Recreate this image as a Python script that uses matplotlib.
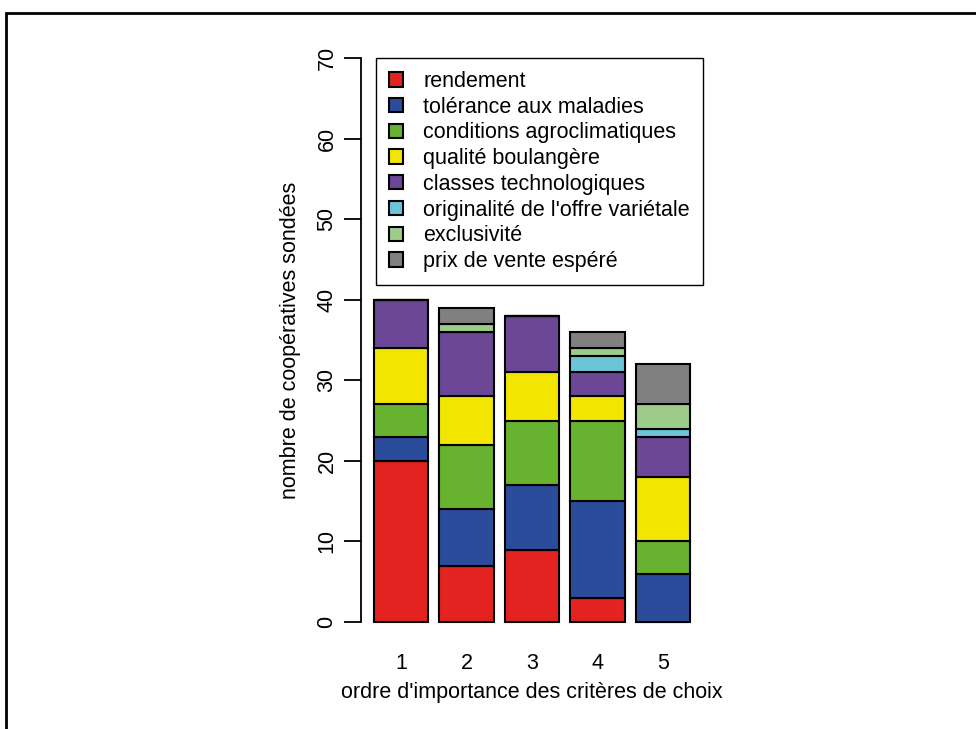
import numpy as np
import matplotlib
matplotlib.use("Agg")
import matplotlib.pyplot as plt
from matplotlib.patches import Rectangle

plt.rcParams['font.family'] = ['Liberation Sans', 'DejaVu Sans']

# ordre d'importance (1..5)
rangs = ['1', '2', '3', '4', '5']
criteres = ['rendement', 'tolérance aux maladies', 'conditions agroclimatiques',
            'qualité boulangère', 'classes technologiques',
            "originalité de l'offre variétale", 'exclusivité', 'prix de vente espéré']
couleurs = ['#E3231F', '#2B4C9B', '#67B22E', '#F2E600', '#6B4796',
            '#6CC4D9', '#9DCB8A', '#808080']

# nombre de coopératives par critère, pour chaque rang
rendement = [20, 7, 9, 3, 0]
tolerance = [3, 7, 8, 12, 6]
conditions = [4, 8, 8, 10, 4]
qualite = [7, 6, 6, 3, 8]
classes = [6, 8, 7, 3, 5]
originalite = [0, 0, 0, 2, 1]
exclusivite = [0, 1, 0, 1, 3]
prix = [0, 2, 0, 2, 5]

series = [rendement, tolerance, conditions, qualite, classes,
          originalite, exclusivite, prix]

fs = 15.5

fig = plt.figure(figsize=(9.76, 7.29), dpi=100)
ax = fig.add_axes([0.370, 0.1158, 0.350, 0.8356])

x = 0.7 + 1.2 * np.arange(len(rangs))
bas = np.zeros(len(rangs))
handles = []
for vals, lab, col in zip(series, criteres, couleurs):
    vals = np.array(vals, dtype=float)
    b = ax.bar(x, vals, width=1.0, bottom=bas, color=col, edgecolor='black',
               linewidth=1.5, label=lab)
    handles.append(b)
    bas += vals

ax.set_xlim(-0.032, 6.232)
ax.set_ylim(-2.8, 72.8)

for s in ['top', 'right', 'bottom']:
    ax.spines[s].set_visible(False)
ax.spines['left'].set_bounds(0, 70)
ax.spines['left'].set_linewidth(1.3)

ax.set_yticks(np.arange(0, 71, 10))
ax.set_yticklabels([str(v) for v in range(0, 71, 10)], rotation=90, va='center',
                   fontsize=fs)
ax.tick_params(axis='y', length=12, width=1.3, pad=5)

ax.set_xticks(x)
ax.set_xticklabels(rangs, fontsize=fs)
ax.tick_params(axis='x', length=0, pad=6)

ax.set_xlabel("ordre d'importance des critères de choix", fontsize=fs, labelpad=6)
ax.set_ylabel('nombre de coopératives sondées', fontsize=fs, labelpad=11)

leg = ax.legend(handles=handles, loc='upper right', bbox_to_anchor=(6.232, 70),
                bbox_transform=ax.transData, borderaxespad=0, fancybox=False,
                edgecolor='black', fontsize=fs, handlelength=0.65, handleheight=0.65,
                handletextpad=0.95, labelspacing=0.22, borderpad=0.6, framealpha=1)
leg.get_frame().set_linewidth(1.0)
leg.set_clip_on(False)

# cadre autour de la figure
fig.patches.append(Rectangle((0.006, -0.2), 1.2, 0.982 + 0.2, transform=fig.transFigure,
                             fill=False, edgecolor='black', linewidth=2))

fig.savefig('out.png', dpi=100)
